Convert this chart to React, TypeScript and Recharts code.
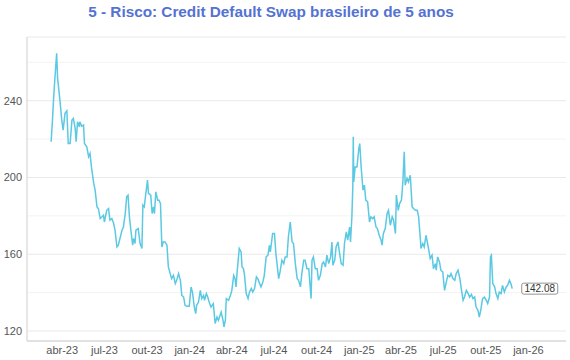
import React from "react";
import {
  LineChart,
  Line,
  XAxis,
  YAxis,
  CartesianGrid,
  ReferenceLine,
} from "recharts";

// CDS Brasil 5 anos, leituras aproximadas do gráfico
const dates2023 = [
  "2023-03-08", "2023-03-11", "2023-03-13", "2023-03-15", "2023-03-20", "2023-03-22", "2023-03-24", "2023-03-27",
  "2023-03-31", "2023-04-03", "2023-04-07", "2023-04-11", "2023-04-14", "2023-04-18", "2023-04-22", "2023-04-25",
  "2023-04-29", "2023-05-01", "2023-05-04", "2023-05-08", "2023-05-09", "2023-05-13", "2023-05-17", "2023-05-19",
  "2023-05-24", "2023-05-28", "2023-05-31", "2023-06-03", "2023-06-08", "2023-06-11", "2023-06-15", "2023-06-18",
  "2023-06-22", "2023-06-26", "2023-06-29", "2023-07-01", "2023-07-06", "2023-07-10", "2023-07-13", "2023-07-17",
  "2023-07-21", "2023-07-24", "2023-07-28", "2023-07-31", "2023-08-08", "2023-08-11", "2023-08-15", "2023-08-18",
  "2023-08-21", "2023-08-24", "2023-08-28", "2023-08-31", "2023-09-02", "2023-09-05", "2023-09-07", "2023-09-12",
  "2023-09-16", "2023-09-20", "2023-09-22", "2023-09-25", "2023-09-28", "2023-10-02", "2023-10-04", "2023-10-09",
  "2023-10-12", "2023-10-15", "2023-10-17", "2023-10-20", "2023-10-24", "2023-10-27", "2023-10-30", "2023-11-02",
  "2023-11-05", "2023-11-09", "2023-11-13", "2023-11-16", "2023-11-20", "2023-11-23", "2023-11-27", "2023-12-01",
  "2023-12-04", "2023-12-08", "2023-12-12", "2023-12-15", "2023-12-19", "2023-12-22", "2023-12-26", "2023-12-31",
];
const cds2023 = [
  218.6, 229.9, 239.4, 247.3, 264.7, 251.6, 247.3, 240.3,
  229.9, 224.7, 233.4, 234.7, 217.7, 217.7, 229.9, 230.8,
  225.6, 218.6, 229.0, 226.4, 229.0, 226.7, 227.3, 217.7,
  216.0, 210.8, 212.5, 205.5, 196.9, 193.4, 184.7, 183.8,
  178.6, 179.5, 180.3, 176.8, 182.9, 183.8, 177.7, 178.6,
  176.0, 172.5, 163.8, 164.7, 172.5, 174.2, 181.2, 189.9,
  190.8, 179.5, 170.8, 164.7, 168.2, 165.6, 172.5, 173.4,
  165.6, 163.0, 185.6, 184.7, 190.8, 198.6, 191.7, 190.8,
  181.2, 184.7, 181.2, 192.5, 188.2, 188.2, 186.4, 163.8,
  166.4, 166.4, 164.7, 153.4, 149.9, 147.3, 149.0, 144.7,
  146.4, 149.9, 146.4, 138.6, 137.7, 133.4, 132.9, 132.9,
];

const dates2024 = [
  "2024-01-04", "2024-01-07", "2024-01-11", "2024-01-14", "2024-01-16", "2024-01-20", "2024-01-24", "2024-01-27",
  "2024-01-31", "2024-02-02", "2024-02-06", "2024-02-09", "2024-02-12", "2024-02-16", "2024-02-21", "2024-02-25",
  "2024-02-29", "2024-03-03", "2024-03-09", "2024-03-13", "2024-03-15", "2024-03-18", "2024-03-20", "2024-03-25",
  "2024-03-29", "2024-04-01", "2024-04-05", "2024-04-08", "2024-04-10", "2024-04-13", "2024-04-17", "2024-04-21",
  "2024-04-23", "2024-04-26", "2024-04-28", "2024-05-02", "2024-05-06", "2024-05-09", "2024-05-13", "2024-05-16",
  "2024-05-20", "2024-05-24", "2024-05-27", "2024-05-31", "2024-06-03", "2024-06-07", "2024-06-10", "2024-06-14",
  "2024-06-18", "2024-06-21", "2024-06-23", "2024-06-28", "2024-07-02", "2024-07-05", "2024-07-09", "2024-07-11",
  "2024-07-14", "2024-07-18", "2024-07-22", "2024-07-25", "2024-07-29", "2024-08-01", "2024-08-05", "2024-08-09",
  "2024-08-12", "2024-08-16", "2024-08-20", "2024-08-23", "2024-08-27", "2024-08-30", "2024-09-03", "2024-09-06",
  "2024-09-10", "2024-09-14", "2024-09-19", "2024-09-21", "2024-09-24", "2024-09-28", "2024-10-02", "2024-10-05",
  "2024-10-09", "2024-10-13", "2024-10-16", "2024-10-20", "2024-10-23", "2024-10-27", "2024-10-31", "2024-11-03",
  "2024-11-05", "2024-11-09", "2024-11-12", "2024-11-16", "2024-11-19", "2024-11-23", "2024-11-27", "2024-11-30",
  "2024-12-04", "2024-12-07", "2024-12-11", "2024-12-13", "2024-12-16", "2024-12-18", "2024-12-19", "2024-12-20",
  "2024-12-23", "2024-12-27", "2024-12-31",
];
const cds2024 = [
  142.9, 140.3, 132.5, 129.1, 133.4, 135.1, 141.2, 136.9,
  138.6, 136.0, 139.5, 137.7, 135.1, 132.5, 134.3, 123.9,
  127.3, 125.6, 129.9, 125.6, 122.1, 125.6, 136.9, 136.0,
  138.6, 141.2, 149.0, 147.3, 143.0, 152.5, 163.0, 161.2,
  153.4, 152.5, 149.9, 139.5, 136.9, 140.3, 142.1, 140.3,
  142.1, 148.2, 147.3, 144.7, 143.0, 145.6, 149.0, 158.6,
  159.5, 164.7, 161.2, 170.8, 170.8, 160.4, 151.7, 147.3,
  150.8, 156.9, 155.1, 158.6, 158.6, 169.0, 176.8, 166.4,
  165.6, 155.1, 147.3, 146.4, 143.0, 149.9, 156.9, 156.9,
  152.5, 152.5, 136.9, 156.9, 158.6, 152.5, 152.5, 146.4,
  149.0, 155.1, 156.0, 153.4, 159.5, 155.1, 158.6, 166.4,
  154.3, 156.9, 163.8, 166.4, 161.2, 155.1, 154.3, 165.6,
  171.6, 167.3, 174.2, 166.4, 179.5, 195.1, 221.2, 197.7,
  205.5, 205.5, 215.1,
];

const dates2025 = [
  "2025-01-02", "2025-01-05", "2025-01-09", "2025-01-12", "2025-01-15", "2025-01-19", "2025-01-23", "2025-01-26",
  "2025-01-30", "2025-02-02", "2025-02-06", "2025-02-09", "2025-02-13", "2025-02-17", "2025-02-19", "2025-02-22",
  "2025-02-26", "2025-03-02", "2025-03-05", "2025-03-09", "2025-03-13", "2025-03-16", "2025-03-20", "2025-03-22",
  "2025-03-26", "2025-03-29", "2025-04-02", "2025-04-05", "2025-04-08", "2025-04-10", "2025-04-14", "2025-04-17",
  "2025-04-21", "2025-04-25", "2025-04-28", "2025-05-02", "2025-05-06", "2025-05-09", "2025-05-13", "2025-05-14",
  "2025-05-18", "2025-05-21", "2025-05-25", "2025-05-27", "2025-05-31", "2025-06-03", "2025-06-07", "2025-06-10",
  "2025-06-14", "2025-06-16", "2025-06-19", "2025-06-23", "2025-06-26", "2025-06-30", "2025-07-04", "2025-07-07",
  "2025-07-11", "2025-07-15", "2025-07-18", "2025-07-22", "2025-07-26", "2025-07-29", "2025-08-02", "2025-08-06",
  "2025-08-09", "2025-08-13", "2025-08-16", "2025-08-20", "2025-08-24", "2025-08-27", "2025-08-31", "2025-09-03",
  "2025-09-07", "2025-09-10", "2025-09-14", "2025-09-17", "2025-09-20", "2025-09-24", "2025-09-28", "2025-10-02",
  "2025-10-05", "2025-10-09", "2025-10-11", "2025-10-13", "2025-10-16", "2025-10-20", "2025-10-23", "2025-10-27",
  "2025-10-30", "2025-11-03", "2025-11-06", "2025-11-10", "2025-11-14", "2025-11-17", "2025-11-21", "2025-11-24",
  "2025-11-27",
];
const cds2025 = [
  217.7, 205.5, 193.4, 196.0, 188.2, 187.3, 176.8, 179.5,
  178.6, 179.5, 174.2, 173.4, 169.9, 167.3, 164.7, 170.8,
  173.4, 181.2, 182.9, 175.1, 179.5, 177.7, 170.8, 190.8,
  182.9, 186.4, 188.2, 197.7, 213.4, 196.0, 199.5, 197.7,
  201.2, 184.7, 183.8, 182.9, 182.9, 179.5, 167.3, 163.0,
  165.6, 163.8, 169.9, 167.3, 162.1, 157.8, 159.5, 152.5,
  155.1, 151.7, 158.6, 156.0, 151.7, 150.8, 141.2, 144.7,
  149.0, 148.2, 149.9, 147.3, 146.4, 149.9, 151.7, 147.3,
  142.1, 136.0, 137.7, 141.2, 139.5, 137.7, 139.1, 136.9,
  137.7, 132.5, 130.8, 127.3, 130.8, 136.9, 137.7, 136.0,
  134.3, 137.7, 158.6, 159.5, 144.7, 143.0, 139.5, 136.9,
  140.3, 139.5, 143.8, 140.3, 143.0, 143.8, 146.4, 144.7,
  142.08,
];

const yTicks = [120, 160, 200, 240];
const yMinor = [140, 180, 220, 260];
const xTickDates = [
  "2023-04-01", "2023-07-01", "2023-10-01", "2024-01-01", "2024-04-01", "2024-07-01",
  "2024-10-01", "2025-01-01", "2025-04-01", "2025-07-01", "2025-10-01", "2026-01-01",
];
const monthsPt = ["jan", "fev", "mar", "abr", "mai", "jun", "jul", "ago", "set", "out", "nov", "dez"];

const toTs = (d: string) => Date.parse(d + "T00:00:00Z");

const allDates = [...dates2023, ...dates2024, ...dates2025];
const allValues = [...cds2023, ...cds2024, ...cds2025];
const data = allDates.map((d, i) => ({ t: toTs(d), cds: allValues[i] }));
const xTicks = xTickDates.map(toTs);
const lastIndex = data.length - 1;

const fmtDate = (ts: number) => {
  const d = new Date(ts);
  return `${monthsPt[d.getUTCMonth()]}-${String(d.getUTCFullYear()).slice(2)}`;
};

const LINE_COLOR = "#5bc9e2";
const FONT = "'Liberation Sans', Arial, sans-serif";

const LastValueLabel = (props: any) => {
  const { x, y, index, value } = props;
  if (index !== lastIndex) return <g />;
  return (
    <g>
      <rect
        x={x + 9.5}
        y={y - 5.5}
        width={36}
        height={11}
        rx={2}
        fill="#fff"
        stroke="#777"
        strokeWidth={0.8}
      />
      <text
        x={x + 27.5}
        y={y + 3.6}
        textAnchor="middle"
        fontSize={10}
        fill="#333"
        fontFamily={FONT}
      >
        {Number(value).toFixed(2)}
      </text>
    </g>
  );
};

export default function App() {
  return (
    <div
      style={{
        position: "absolute",
        left: 0,
        top: 0,
        width: 570,
        height: 360,
        background: "#fff",
        fontFamily: FONT,
      }}
    >
      <div
        style={{
          position: "absolute",
          left: 0,
          top: 2,
          width: 542,
          textAlign: "center",
          fontSize: 15.3,
          fontWeight: "bold",
          color: "#5472d3",
          lineHeight: "20px",
        }}
      >
        5 - Risco: Credit Default Swap brasileiro de 5 anos
      </div>
      <LineChart
        width={570}
        height={360}
        data={data}
        margin={{ top: 37, right: 4, left: 0, bottom: 0 }}
      >
        <CartesianGrid vertical={false} stroke="#e9e9e9" strokeWidth={1} />
        {yMinor.map((v) => (
          <ReferenceLine key={v} y={v} stroke="#f3f3f3" strokeWidth={1} />
        ))}
        <XAxis
          dataKey="t"
          type="number"
          scale="time"
          domain={[toTs("2023-01-15"), toTs("2026-03-23")]}
          ticks={xTicks}
          tickFormatter={fmtDate}
          tickLine={false}
          tickSize={5}
          tickMargin={0}
          height={19}
          stroke="#cfcfcf"
          tick={{ fill: "#555", fontSize: 11, fontFamily: FONT }}
          allowDataOverflow
        />
        <YAxis
          type="number"
          domain={[114.8, 273.2]}
          ticks={yTicks}
          tickLine={false}
          tickSize={5}
          tickMargin={0}
          width={27}
          stroke="#cfcfcf"
          tick={{ fill: "#555", fontSize: 11, fontFamily: FONT }}
          allowDataOverflow
        />
        <Line
          type="linear"
          dataKey="cds"
          stroke={LINE_COLOR}
          strokeWidth={1.5}
          dot={false}
          isAnimationActive={false}
          label={LastValueLabel}
        />
      </LineChart>
    </div>
  );
}
